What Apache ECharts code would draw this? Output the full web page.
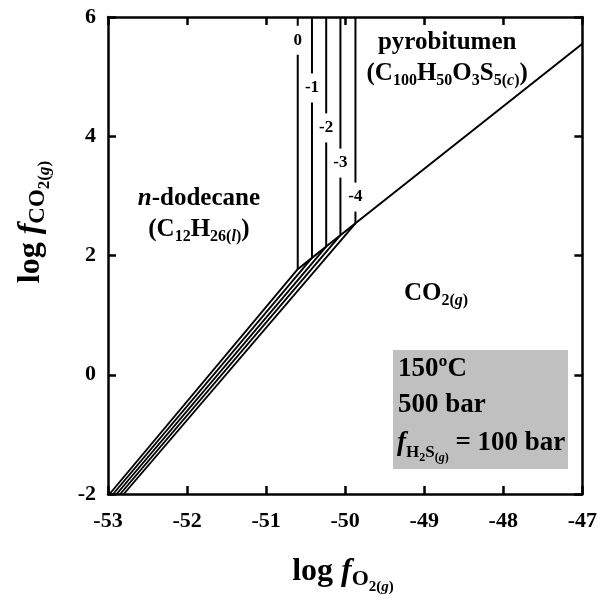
<!DOCTYPE html>
<html><head><meta charset="utf-8">
<script src="https://cdn.jsdelivr.net/npm/echarts@6/dist/echarts.min.js"></script>
<style>html,body{margin:0;padding:0;background:#fff}#c{width:600px;height:608px}</style>
</head><body><div id="c"></div>
<script>
// ---- data ----
const xMin = -53, xMax = -47, xStep = 1;
const yMin = -2, yMax = 6, yStep = 2;
const activityLabels = ['0', '-1', '-2', '-3', '-4'];
const verticalX = [-50.60, -50.42, -50.24, -50.06, -49.87];
const tripleY = [1.77, 1.96, 2.15, 2.34, 2.54];
const verticalTopY = 6;
const diagStartX = [-52.98, -52.935, -52.89, -52.845, -52.80];
const diagStartY = -2;
const activityLabelY = [5.61, 4.81, 4.14, 3.55, 2.98];
const pyroEndPoint = [-47, 5.55];
const regionX = [-48.71, -51.85, -48.85];
const regionY = [5.31, 2.69, 1.37];
const regionText = [
  '{b|pyrobitumen}\n{b|(C}{s|100}{b|H}{s|50}{b|O}{s|3}{b|S}{s|5(}{si|c}{s|)}{b|)}',
  '{bi|n}{b|-dodecane}\n{b|(C}{s|12}{b|H}{s|26(}{si|l}{s|)}{b|)}',
  '{b|CO}{s|2(}{si|g}{s|)}'
];
const boxLines = ['150\u00BAC', '500 bar'];

// ---- chart ----
const F = '"Liberation Serif","Times New Roman",serif';
const chart = echarts.init(document.getElementById('c'), null, {renderer: 'canvas'});

const axisLine = {show: true, onZero: false, lineStyle: {color: '#000', width: 2.5}};
const axisTick = {show: true, inside: true, length: 8, lineStyle: {color: '#000', width: 2.5}};
const tickLabel = {color: '#000', fontFamily: F, fontWeight: 'bold', fontSize: 22};

const lineStyle = {color: '#000', width: 2};
const series = [];
for (let i = 0; i < verticalX.length; i++) {
  series.push({type: 'line', symbol: 'none', silent: true, animation: false,
    lineStyle: {color: '#000', width: 1.9},
    data: [[diagStartX[i], diagStartY], [verticalX[i], tripleY[i]]]});
}
for (let i = 0; i < verticalX.length; i++) {
  series.push({type: 'line', symbol: 'none', silent: true, animation: false, lineStyle,
    data: [[verticalX[i], tripleY[i]], [verticalX[i], verticalTopY]]});
}
const pyroData = verticalX.map((x, i) => [x, tripleY[i]]);
pyroData.push(pyroEndPoint);
series.push({type: 'line', symbol: 'none', silent: true, animation: false, lineStyle, data: pyroData});

function tok(size, extra) {
  return Object.assign({fontFamily: F, fontWeight: 'bold', fontSize: size, fill: '#000', color: '#000', verticalAlign: 'bottom'}, extra || {});
}
const regionRich = {
  b: tok(25, {padding: [3, 0, 3, 0]}),
  bi: tok(25, {fontStyle: 'italic', padding: [3, 0, 3, 0]}),
  s: tok(16, {padding: [0, 0, 0, 0]}),
  si: tok(16, {fontStyle: 'italic', padding: [0, 0, 0, 0]})
};

// activity labels on vertical lines (white background hides line)
series.push({type: 'custom', z: 10, silent: true, animation: false, clip: false,
  data: verticalX.map((x, i) => [x, activityLabelY[i], i]),
  renderItem: function (params, api) {
    const p = api.coord([api.value(0), api.value(1)]);
    return {type: 'text', x: p[0], y: p[1], z2: 10,
      style: {text: activityLabels[api.value(2)], font: 'bold 17px ' + F, fill: '#000',
        align: 'center', verticalAlign: 'middle', backgroundColor: '#fff', padding: [6, 1]}};
  }
});
// region labels
series.push({type: 'custom', z: 10, silent: true, animation: false, clip: false,
  data: regionX.map((x, i) => [x, regionY[i], i]),
  renderItem: function (params, api) {
    const p = api.coord([api.value(0), api.value(1)]);
    return {type: 'text', x: p[0], y: p[1], z2: 10,
      style: {text: regionText[api.value(2)], rich: regionRich, fill: '#000',
        align: 'center', verticalAlign: 'middle'}};
  }
});

const titleRichX = {
  m: tok(32, {padding: [0, 0, 7, 0]}),
  i: tok(32, {fontStyle: 'italic', padding: [0, 0, 7, 0]}),
  s: tok(22, {padding: [0, 0, 4, 0]}),
  ss: tok(15, {padding: [0, 0, 0, 0]}),
  ssi: tok(15, {fontStyle: 'italic', padding: [0, 0, 0, 0]})
};
const titleRichY = {
  m: tok(32, {padding: [0, 0, 7, 0]}),
  i: tok(32, {fontStyle: 'italic', padding: [0, 0, 7, 0]}),
  s: tok(23, {padding: [0, 0, 4, 0]}),
  ss: tok(17, {padding: [0, 0, 0, 0]}),
  ssi: tok(17, {fontStyle: 'italic', padding: [0, 0, 0, 0]})
};
const boxRich = {
  m: tok(27, {padding: [0, 0, 7, 0]}),
  i: tok(27, {fontStyle: 'italic', padding: [0, 0, 7, 0]}),
  s: tok(17, {padding: [0, 0, 3, 0]}),
  ss: tok(12, {padding: [0, 0, 0, 0]}),
  ssi: tok(12, {fontStyle: 'italic', padding: [0, 0, 0, 0]})
};

const option = {
  backgroundColor: '#fff',
  animation: false,
  grid: {left: 108, right: 16, top: 17, bottom: 114, containLabel: false},
  xAxis: [
    {type: 'value', min: xMin, max: xMax, interval: xStep, position: 'bottom', axisLine, axisTick,
      axisLabel: Object.assign({margin: 16}, tickLabel), splitLine: {show: false}},
    {type: 'value', min: xMin, max: xMax, interval: xStep, position: 'top', axisLine, axisTick,
      axisLabel: {show: false}, splitLine: {show: false}}
  ],
  yAxis: [
    {type: 'value', min: yMin, max: yMax, interval: yStep, position: 'left', axisLine, axisTick,
      axisLabel: Object.assign({margin: 12}, tickLabel), splitLine: {show: false}},
    {type: 'value', min: yMin, max: yMax, interval: yStep, position: 'right', axisLine, axisTick,
      axisLabel: {show: false}, splitLine: {show: false}}
  ],
  series,
  graphic: [
    {type: 'rect', z: 1, shape: {x: 393, y: 350, width: 175, height: 119}, style: {fill: '#c0c0c0'}},
    {type: 'text', z: 20, x: 398, y: 369, style: {text: boxLines[0], font: 'bold 27px ' + F, fill: '#000', align: 'left', verticalAlign: 'middle'}},
    {type: 'text', z: 20, x: 398, y: 405, style: {text: boxLines[1], font: 'bold 27px ' + F, fill: '#000', align: 'left', verticalAlign: 'middle'}},
    {type: 'text', z: 20, x: 397, y: 447, style: {text: '{i|f}{s|H}{ss|2}{s|S}{ss|(}{ssi|g}{ss|)}{m| = 100 bar}', rich: boxRich, align: 'left', verticalAlign: 'middle'}},
    {type: 'text', z: 20, x: 343, y: 575, style: {text: '{m|log }{i|f}{s|O}{ss|2(}{ssi|g}{ss|)}', rich: titleRichX, align: 'center', verticalAlign: 'middle'}},
    {type: 'text', z: 20, x: 34, y: 222, rotation: Math.PI / 2, style: {text: '{m|log }{i|f}{s|CO}{ss|2(}{ssi|g}{ss|)}', rich: titleRichY, align: 'center', verticalAlign: 'middle'}}
  ]
};
chart.setOption(option);
</script>
</body></html>
